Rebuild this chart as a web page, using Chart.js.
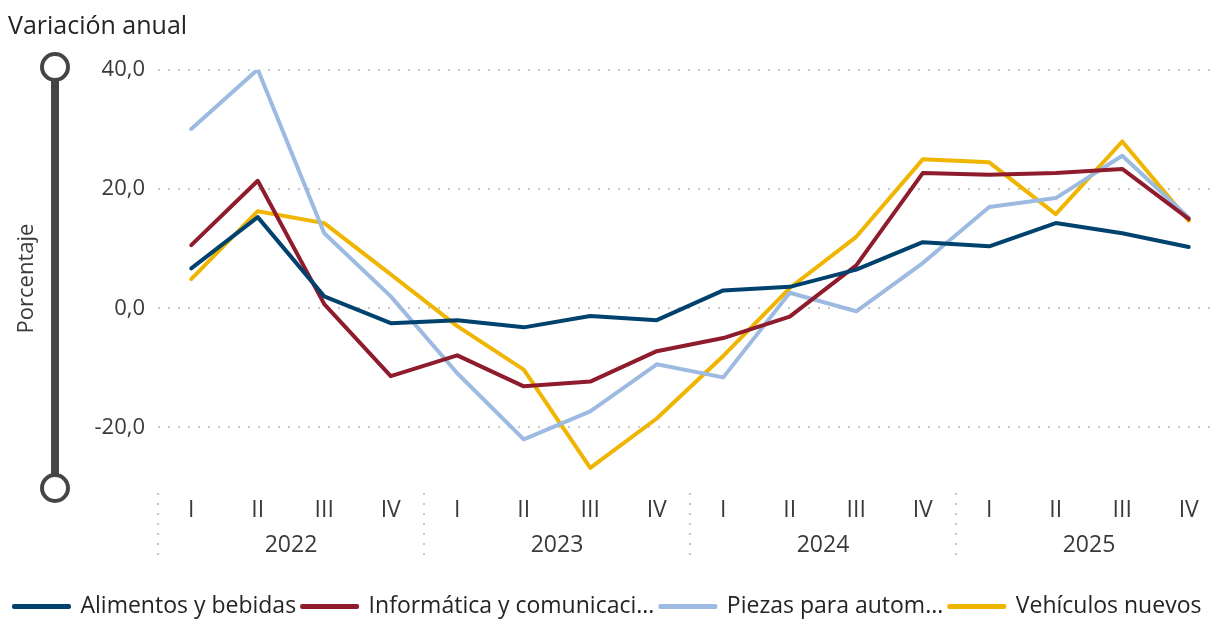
<!DOCTYPE html>
<html>
<head>
<meta charset="utf-8">
<script src="https://cdn.jsdelivr.net/npm/chart.js@4"></script>
<style>
  html, body { margin: 0; padding: 0; background: #fff; overflow: hidden; }
  #wrap { width: 1222px; height: 620px; position: relative; }
</style>
</head>
<body>
<div id="wrap"><canvas id="chart"></canvas></div>
<script>
// Data
const years = ['2022', '2023', '2024', '2025'];
const quarters = ['I', 'II', 'III', 'IV'];
const yTicks = [40, 20, 0, -20];

const seriesNames = ['Alimentos y bebidas', 'Informática y comunicaci...', 'Piezas para autom...', 'Vehículos nuevos'];
const seriesColors = ['#00426e', '#8f1c2c', '#9dbbe0', '#efb500'];

const alimentos = [6.7, 15.3, 2.0, -2.5, -2.0, -3.2, -1.3, -2.0, 3.0, 3.6, 6.5, 11.1, 10.4, 14.3, 12.6, 10.3];
const informatica = [10.6, 21.4, 0.7, -11.4, -7.9, -13.1, -12.3, -7.2, -5.0, -1.4, 7.2, 22.7, 22.4, 22.7, 23.4, 15.0];
const piezas = [30.1, 40.1, 12.6, 2.0, -10.9, -22.0, -17.3, -9.4, -11.6, 2.6, -0.5, 7.6, 17.0, 18.5, 25.6, 15.2];
const vehiculos = [4.9, 16.3, 14.3, 5.7, -3.0, -10.3, -26.8, -18.5, -8.0, 3.4, 12.0, 25.0, 24.5, 15.8, 28.0, 14.7];

const seriesValues = [alimentos, informatica, piezas, vehiculos];

// one label per quarter, year by year
const quarterLabels = [];
years.forEach(() => quarters.forEach(q => quarterLabels.push(q)));

const FONT = "'Segoe UI', 'Open Sans', 'Noto Sans', sans-serif";
const TEXT = '#3a3a3a';

// Slider on the left and dotted separators between years
const decorations = {
    id: 'decorations',
    afterDraw(chart) {
        const ctx = chart.ctx;
        const area = chart.chartArea;
        const x = chart.scales.x;

        // year separators under the axis
        ctx.save();
        ctx.strokeStyle = '#c8c8c8';
        ctx.lineWidth = 2;
        ctx.setLineDash([2, 8]);
        for (let i = 0; i <= quarterLabels.length; i += 4) {
            const px = Math.round(x.getPixelForValue(i - 0.5));
            ctx.beginPath();
            ctx.moveTo(px, area.bottom + 6);
            ctx.lineTo(px, area.bottom + 76);
            ctx.stroke();
        }
        ctx.restore();

        // range slider
        const sx = 55;
        const top = area.top - 3;
        const bottom = area.bottom + 1;
        ctx.save();
        ctx.strokeStyle = '#454545';
        ctx.lineWidth = 8;
        ctx.beginPath();
        ctx.moveTo(sx, top);
        ctx.lineTo(sx, bottom);
        ctx.stroke();
        ctx.lineWidth = 4;
        ctx.fillStyle = '#fff';
        [top, bottom].forEach(cy => {
            ctx.beginPath();
            ctx.arc(sx, cy, 13, 0, Math.PI * 2);
            ctx.fill();
            ctx.stroke();
        });
        ctx.restore();
    }
};

const ctx = document.getElementById('chart').getContext('2d');
const chart = new Chart(ctx, {
    type: 'line',
    data: {
        labels: quarterLabels,
        datasets: seriesNames.map((name, i) => ({
            label: name,
            data: seriesValues[i],
            borderColor: seriesColors[i],
            backgroundColor: seriesColors[i],
            borderWidth: 4,
            borderCapStyle: 'round',
            borderJoinStyle: 'round',
            pointRadius: 0,
            tension: 0
        }))
    },
    options: {
        responsive: true,
        maintainAspectRatio: false,
        animation: false,
        layout: { padding: { left: 8, right: 0, top: 0, bottom: -8 } },
        plugins: {
            title: {
                display: true,
                text: 'Variación anual',
                align: 'start',
                color: '#252423',
                font: { family: FONT, size: 25, weight: 'normal' },
                padding: { top: 12, bottom: 28 }
            },
            legend: {
                position: 'bottom',
                align: 'start',
                labels: {
                    color: '#252423',
                    font: { family: FONT, size: 23 },
                    boxWidth: 55,
                    boxHeight: 1,
                    padding: 6
                }
            },
            tooltip: { enabled: false }
        },
        scales: {
            x: {
                type: 'category',
                offset: true,
                grid: { display: false },
                border: { display: false },
                ticks: {
                    color: TEXT,
                    font: { family: FONT, size: 23 },
                    padding: 2,
                    autoSkip: false,
                    maxRotation: 0
                },
                afterFit(scale) { scale.height = 34; }
            },
            year: {
                type: 'category',
                position: 'bottom',
                labels: years,
                offset: true,
                weight: 1,
                grid: { display: false },
                border: { display: false },
                ticks: {
                    color: TEXT,
                    font: { family: FONT, size: 23 },
                    padding: 3,
                    maxRotation: 0
                },
                afterFit(scale) { scale.height = 68; }
            },
            y: {
                min: -30,
                max: 40,
                grid: { color: '#c8c8c8', lineWidth: 2, drawTicks: false },
                border: { display: false, dash: [2, 8] },
                afterBuildTicks(scale) {
                    scale.ticks = yTicks.map(v => ({ value: v }));
                },
                ticks: {
                    color: TEXT,
                    font: { family: FONT, size: 22 },
                    padding: 13,
                    callback: v => v.toFixed(1).replace('.', ',')
                },
                title: {
                    display: true,
                    text: 'Porcentaje',
                    color: TEXT,
                    font: { family: FONT, size: 22 },
                    padding: { top: 6, bottom: 0 }
                },
                afterFit(scale) { scale.width = 150; }
            }
        }
    },
    plugins: [decorations]
});
</script>
</body>
</html>
